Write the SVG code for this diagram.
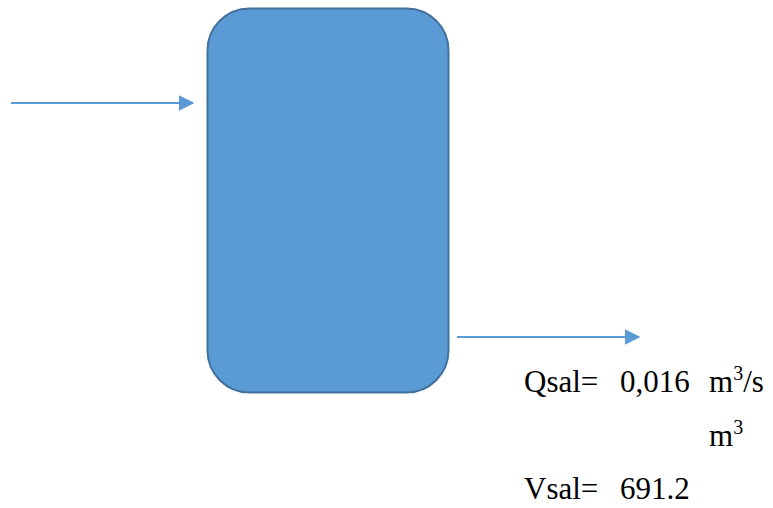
<svg xmlns="http://www.w3.org/2000/svg" width="773" height="508" viewBox="0 0 773 508">
<style>
.conn{stroke:#5B9BD5;stroke-width:2.2;fill:none}
.lbl{font-family:"Liberation Serif","Times New Roman",serif;font-size:31px;fill:#000000}
.sup{font-size:20px}
</style>
<defs>
<marker id="ah" markerWidth="7" markerHeight="7" refX="0" refY="3.5" orient="auto" markerUnits="strokeWidth">
<path d="M0,0 L7,3.5 L0,7 Z" fill="#5B9BD5"/>
</marker>
</defs>
<rect width="773" height="508" fill="#ffffff"/>
<g id="tank">
<rect x="207.5" y="8.5" width="241" height="384" rx="42" ry="42" fill="#5B9BD5" stroke="#41719C" stroke-width="2"/>
</g>
<g id="connectors">
<line class="conn" x1="11" y1="103" x2="179" y2="103" marker-end="url(#ah)"/>
<line class="conn" x1="457" y1="337" x2="625" y2="337" marker-end="url(#ah)"/>
</g>
<g id="labels">
<text class="lbl" x="524" y="392">Qsal=</text>
<text class="lbl" x="620" y="392">0,016</text>
<text class="lbl" x="709" y="392">m<tspan class="sup" dy="-12">3</tspan><tspan dy="12">/s</tspan></text>
<text class="lbl" x="709" y="446">m<tspan class="sup" dy="-12">3</tspan></text>
<text class="lbl" x="524" y="499">Vsal=</text>
<text class="lbl" x="620" y="499">691.2</text>
</g>
</svg>
